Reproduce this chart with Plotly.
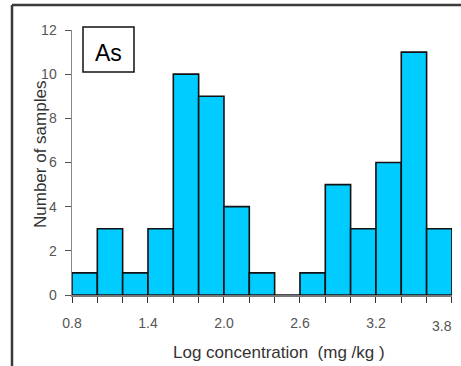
import plotly.graph_objects as go

bin_left = [0.8, 1.0, 1.2, 1.4, 1.6, 1.8, 2.0, 2.2, 2.4, 2.6, 2.8, 3.0, 3.2, 3.4, 3.6]
counts = [1, 3, 1, 3, 10, 9, 4, 1, 0, 1, 5, 3, 6, 11, 3]
x_tick_vals = [0.8, 1.4, 2.0, 2.6, 3.2, 3.8]
x_tick_text = ["0.8", "1.4", "2.0", "2.6", "3.2", "3.8"]
y_tick_vals = [0, 2, 4, 6, 8, 10, 12]
bin_width = 0.2

FONT = "Liberation Sans, Arial, sans-serif"

fig = go.Figure()
fig.add_trace(go.Bar(
    x=bin_left, y=counts, width=[bin_width] * len(bin_left), offset=0,
    marker=dict(color="#00CCFF", line=dict(color="#111111", width=1.6)),
    cliponaxis=False, hoverinfo="skip",
))

# last tick label sits at the figure's right edge: draw it as an annotation,
# nudged inward as in the reference
axis_labels = x_tick_text[:-1] + [""]

fig.update_layout(
    width=461, height=366,
    margin=dict(l=72, r=9, t=30, b=71, autoexpand=False),
    paper_bgcolor="white", plot_bgcolor="white",
    showlegend=False,
    bargap=0,
    font=dict(family=FONT, color="#333333"),
    xaxis=dict(
        range=[0.8, 3.8005], showgrid=False, zeroline=False, automargin=False,
        tickmode="array", tickvals=x_tick_vals, ticktext=axis_labels,
        ticks="outside", ticklen=6, tickcolor="#333333", tickwidth=1,
        minor=dict(dtick=0.2, tick0=0.8, ticks="outside", ticklen=6,
                   tickcolor="#333333", showgrid=False),
        showline=True, linecolor="#777777", linewidth=1.5,
        tickfont=dict(size=14, color="#555555", family=FONT),
        ticklabelstandoff=9,
    ),
    yaxis=dict(
        range=[0, 12], showgrid=False, zeroline=False, automargin=False,
        tickmode="array", tickvals=y_tick_vals,
        ticks="outside", ticklen=6, tickcolor="#555555", tickwidth=1,
        showline=True, linecolor="#888888", linewidth=1.5,
        tickfont=dict(size=14, color="#555555", family=FONT),
        ticklabelstandoff=5,
    ),
    annotations=[
        dict(text=x_tick_text[-1], xref="x", yref="paper",
             x=x_tick_vals[-1], y=(295 - 326) / 265, xanchor="center", yanchor="middle",
             xshift=-10, showarrow=False,
             font=dict(size=14, color="#555555", family=FONT)),
        dict(text="Log concentration  (mg /kg )", xref="paper", yref="paper",
             x=(279 - 72) / 380, y=(295 - 352) / 265, xanchor="center", yanchor="middle",
             showarrow=False, font=dict(size=17, color="#333333", family=FONT)),
        dict(text="Number of samples", xref="paper", yref="paper",
             x=(40 - 72) / 380, y=(295 - 155) / 265, xanchor="center", yanchor="middle",
             textangle=-90, showarrow=False,
             font=dict(size=17, color="#333333", family=FONT)),
        dict(text="As", xref="paper", yref="paper",
             x=(108 - 72) / 380, y=(295 - 53) / 265, xanchor="center", yanchor="middle",
             showarrow=False, font=dict(size=23, color="#000000", family=FONT)),
    ],
    shapes=[
        dict(type="rect", xref="paper", yref="paper",
             x0=(83 - 72) / 380, x1=(134 - 72) / 380,
             y0=(295 - 27) / 265, y1=(295 - 72) / 265,
             line=dict(color="#111111", width=1.5), fillcolor="rgba(0,0,0,0)"),
        dict(type="line", xref="paper", yref="paper",
             x0=(12 - 72) / 380, x1=(470 - 72) / 380,
             y0=(295 - 5) / 265, y1=(295 - 5) / 265,
             line=dict(color="#3a3a3a", width=2.5)),
        dict(type="line", xref="paper", yref="paper",
             x0=(12 - 72) / 380, x1=(12 - 72) / 380,
             y0=(295 - 5) / 265, y1=(295 - 380) / 265,
             line=dict(color="#3a3a3a", width=2.5)),
    ],
)

fig.write_html(
    "out.html",
    config={"displayModeBar": False, "staticPlot": True},
    post_script="document.body.style.margin='0';document.body.style.overflow='hidden';",
)
